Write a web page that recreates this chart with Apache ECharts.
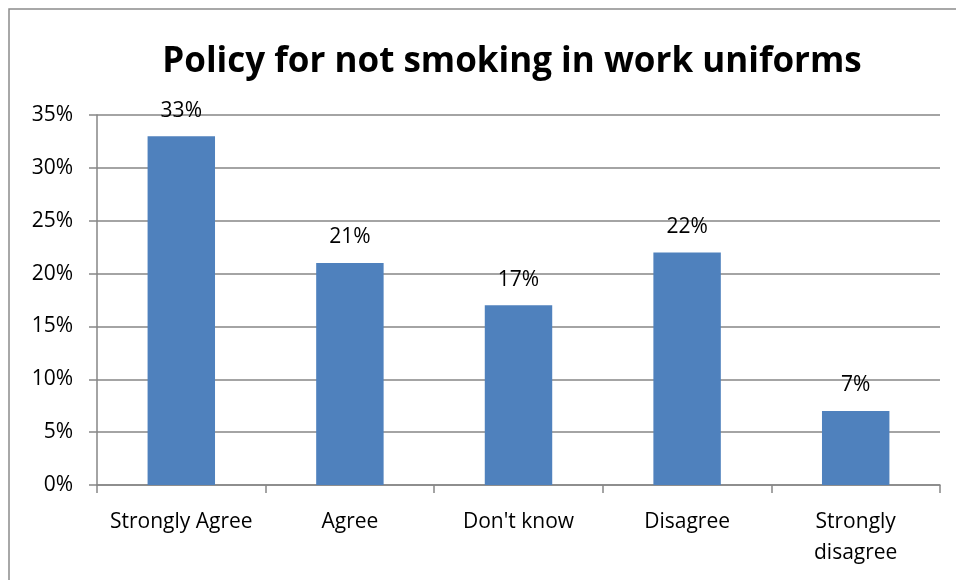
<!DOCTYPE html>
<html>
<head>
<meta charset="utf-8">
<script src="https://cdn.jsdelivr.net/npm/echarts@6/dist/echarts.min.js"></script>
<style>
  html, body { margin: 0; padding: 0; background: #fff; }
  #chart { width: 956px; height: 580px; }
</style>
</head>
<body>
<div id="chart"></div>
<script>
  var categories = ['Strongly Agree', 'Agree', "Don't know", 'Disagree', 'Strongly\ndisagree'];
  var values = [33, 21, 17, 22, 7];
  var yTicks = [0, 5, 10, 15, 20, 25, 30, 35];

  var font = '"Open Sans", "Liberation Sans", sans-serif';
  var myChart = echarts.init(document.getElementById('chart'));
  var option = {
    animation: false,
    title: {
      text: 'Policy for not smoking in work uniforms',
      left: 507,
      top: 40,
      textAlign: 'center',
      textStyle: { fontFamily: font, fontSize: 35, fontWeight: 'bold', color: '#000' }
    },
    graphic: [{
      type: 'rect',
      shape: { x: 9, y: 9, width: 1000, height: 700 },
      style: { fill: 'none', stroke: '#8c8c8c', lineWidth: 1.5 },
      silent: true
    }],
    grid: { left: 97, right: 16, top: 115, bottom: 95 },
    xAxis: {
      type: 'category',
      data: categories,
      axisLine: { lineStyle: { color: '#868686', width: 1.5 } },
      axisTick: { show: true, length: 8, alignWithLabel: false, lineStyle: { color: '#868686', width: 1.5 } },
      axisLabel: { fontFamily: font, fontSize: 21, color: '#000', margin: 22, lineHeight: 31, interval: 0 }
    },
    yAxis: {
      type: 'value',
      min: yTicks[0],
      max: yTicks[yTicks.length - 1],
      interval: 5,
      axisLine: { show: true, lineStyle: { color: '#868686', width: 1.5 } },
      axisTick: { show: true, length: 8, inside: false, lineStyle: { color: '#868686', width: 1.5 } },
      splitLine: { lineStyle: { color: '#868686', width: 1.5 } },
      axisLabel: { fontFamily: font, fontSize: 21, color: '#000', margin: 24, formatter: '{value}%' }
    },
    series: [{
      type: 'bar',
      data: values,
      barWidth: '40%',
      itemStyle: { color: '#4F81BD' },
      label: {
        show: true,
        position: 'top',
        distance: 15,
        formatter: '{c}%',
        fontFamily: font,
        fontSize: 21,
        color: '#000'
      }
    }]
  };
  option && myChart.setOption(option);
</script>
</body>
</html>
